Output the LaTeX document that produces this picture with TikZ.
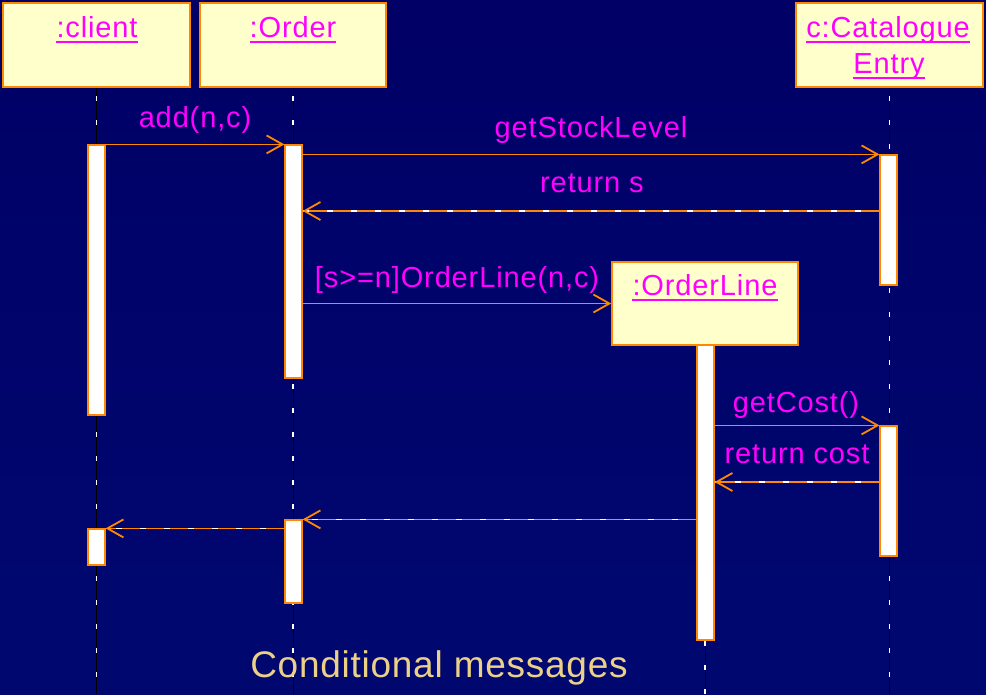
\documentclass[tikz,border=0pt]{standalone}
\usepackage{fontspec}
\setmainfont{Liberation Sans}
\newfontfamily\lblfont[LetterSpace=3]{Liberation Sans}
\newfontfamily\titlefont[LetterSpace=2]{Liberation Sans}
\usetikzlibrary{arrows.meta}
\definecolor{bgtop}{RGB}{0,0,102}
\definecolor{bgbot}{RGB}{0,8,112}
\definecolor{uorange}{RGB}{255,136,0}
\definecolor{umag}{RGB}{255,0,255}
\definecolor{uyellow}{RGB}{255,255,204}
\definecolor{utitle}{RGB}{236,208,136}
\begin{document}
\begin{tikzpicture}[x=1pt,y=-1pt,
  objbox/.style={draw=uorange, fill=uyellow, line width=1.5pt, minimum width=#1, minimum height=84pt, inner sep=0pt},
  actbar/.style={draw=uorange, fill=white, line width=1.2pt, minimum width=17pt, minimum height=#1, inner sep=0pt},
  lifeblack/.style={draw=black, line width=1pt},
  lifewhite/.style={draw=white, line width=1.2pt, dash pattern=on 5pt off 19pt, dash phase=-8pt},
  msg/.style={draw=uorange, line width=1.3pt, -{Straight Barb[length=16pt,width=18pt,line width=1.8pt]}},
  retwhite/.style={draw=white, line width=1.2pt},
  ret/.style={draw=uorange, line width=1.4pt, dash pattern=on 18pt off 6pt, -{Straight Barb[length=16pt,width=18pt,line width=1.8pt]}},
  txt/.style={text=umag, font=\lblfont\fontsize{29}{34}\selectfont, inner sep=0pt, anchor=base},
  uline/.style={draw=umag, line width=2pt},
]
% background
\shade[top color=bgtop, bottom color=bgbot] (0,0) rectangle (986,694);
\useasboundingbox (0,0) rectangle (986,694);

% object boxes
\node[objbox=187pt] (bclient) at (96.5,45) {};
\node[objbox=186pt] (border) at (293,45) {};
\node[objbox=187pt] (bcat) at (889.5,45) {};

% lifeline ends
\coordinate (eclient) at (97,694);
\coordinate (eorder) at (293,694);
\coordinate (ecat) at (889,694);
\coordinate (eol) at (705,694);

% lifelines
\foreach \a/\b in {bclient/eclient, border/eorder, bcat/ecat}{
  \draw[lifeblack] (\a.south) -- (\a.south |- \b);
  \draw[lifewhite] (\a.south) -- (\a.south |- \b);
}
\coordinate (olstart) at (705,345);
\draw[lifeblack] (olstart) -- (eol);
\draw[lifewhite] (olstart) -- (eol);

% OrderLine object box
\node[objbox=186pt, minimum height=83pt] (bol) at (705,303.5) {};

% activation bars
\node[actbar=270pt] (ca1) at (96.5,280) {};
\node[actbar=36pt]  (ca2) at (96.5,547) {};
\node[actbar=233pt] (oa1) at (293.5,261.5) {};
\node[actbar=83pt]  (oa2) at (293.5,561.5) {};
\node[actbar=130pt] (ce1) at (888.5,220) {};
\node[actbar=130pt] (ce2) at (888.5,491) {};
\node[actbar=295pt] (ola) at (705.5,492.5) {};

% message levels
\coordinate (y3) at (0,211);
\coordinate (y6) at (0,482);

% messages
\draw[msg] (ca1.north east) -- (oa1.north west);
\draw[msg] (oa1.east |- ce1.north west) -- (ce1.north west);
\draw[retwhite] (ce1.west |- y3) -- (oa1.east |- y3);
\draw[ret] (ce1.west |- y3) -- (oa1.east |- y3);
\draw[msg] (oa1.east |- bol.west) -- (bol.west);
\draw[msg] (ola.east |- ce2.north west) -- (ce2.north west);
\draw[retwhite] (ce2.west |- y6) -- (ola.east |- y6);
\draw[ret] (ce2.west |- y6) -- (ola.east |- y6);
\draw[retwhite] (ola.west |- oa2.north) -- (oa2.north east);
\draw[ret] (ola.west |- oa2.north) -- (oa2.north east);
\draw[retwhite] (oa2.west |- ca2.north) -- (ca2.north east);
\draw[ret] (oa2.west |- ca2.north) -- (ca2.north east);

% object labels
\node[txt] (tclient) at (97,37) {:client};
\node[txt] (torder) at (293,37) {:Order};
\node[txt] (tcat1) at (888,37) {c:Catalogue};
\node[txt] (tcat2) at (889,73) {Entry};
\node[txt] (tol) at (705,295) {:OrderLine};
\foreach \t in {tclient, torder, tcat1, tcat2, tol}{
  \draw[uline] ([yshift=-5pt]\t.base west) -- ([yshift=-5pt]\t.base east);
}

% message labels
\node[txt] (l1) at (195,127) {add(n,c)};
\node[txt] (l2) at (591,137) {getStockLevel};
\node[txt] (l3) at (592,192) {return s};
\node[txt] (l4) at (457,287) {[s>=n]OrderLine(n,c)};
\node[txt] (l5) at (796,412) {getCost()};
\node[txt] (l6) at (797,463) {return cost};

% title
\node[inner sep=0pt, anchor=base, text=utitle, font=\titlefont\fontsize{37}{42}\selectfont] (title) at (439,677) {Conditional messages};
\end{tikzpicture}
\end{document}
